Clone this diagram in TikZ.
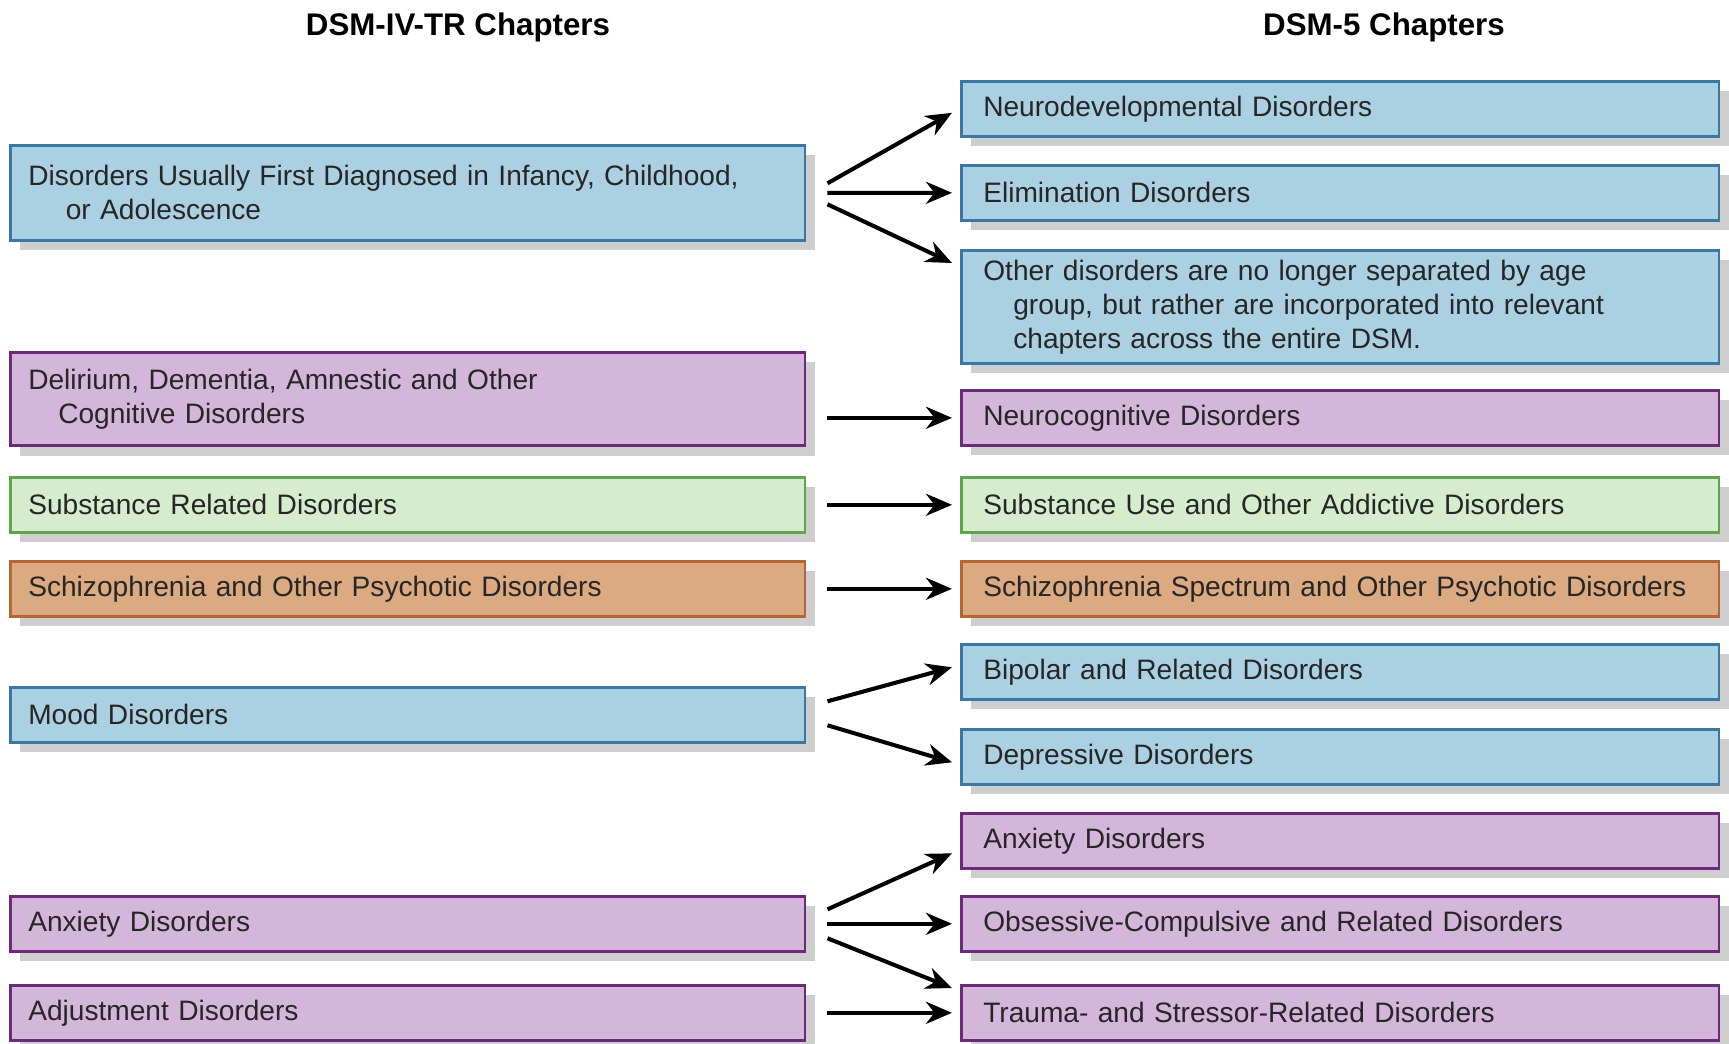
\documentclass[tikz,border=0pt]{standalone}
\usepackage{fontspec}
\setmainfont{Liberation Sans}
\usetikzlibrary{arrows.meta, shadows, calc}
\definecolor{bluefill}{RGB}{170,208,225}
\definecolor{blueline}{RGB}{58,120,163}
\definecolor{purplefill}{RGB}{211,182,217}
\definecolor{purpleline}{RGB}{110,42,122}
\definecolor{greenfill}{RGB}{213,236,205}
\definecolor{greenline}{RGB}{95,165,78}
\definecolor{orangefill}{RGB}{219,170,128}
\definecolor{orangeline}{RGB}{180,102,52}
\definecolor{shadowgray}{RGB}{206,206,206}
\newcommand{\chapfont}{\fontsize{16pt}{19.35pt}\selectfont}
\newcommand{\headfont}{\fontsize{17.8pt}{20pt}\selectfont\bfseries}

\begin{document}
\begin{tikzpicture}[x=0.02cm, y=-0.02cm,
	chapter/.style={rectangle, anchor=north west, align=left, line width=1.5pt, inner ysep=0pt, text=black!85, font=\chapfont, minimum height=1.1cm, drop shadow={shadow xshift=0.2cm, shadow yshift=-0.2cm, fill=shadowgray, opacity=1}},
	old/.style={chapter, inner xsep=0.36cm, text width=15.18cm},
	new/.style={chapter, inner xsep=0.44cm, text width=14.28cm},
	bluebox/.style={fill=bluefill, draw=blueline},
	purplebox/.style={fill=purplefill, draw=purpleline},
	greenbox/.style={fill=greenfill, draw=greenline},
	orangebox/.style={fill=orangefill, draw=orangeline},
	arrow/.style={-{Stealth[length=0.52cm, width=0.44cm]}, line width=2.3pt},
	title/.style={anchor=base, font=\headfont}]
	\useasboundingbox (0, 0) rectangle (1729, 1044);
	% Titles:
	\node[title] (oldtitle) at (458, 36) {DSM-IV-TR Chapters};
	\node[title] (newtitle) at (1384, 36) {DSM-5 Chapters};
	% DSM-IV-TR chapters:
	\node[old, bluebox, minimum height=1.9cm] (infancy) at (9, 144) {Disorders Usually First Diagnosed in Infancy, Childhood,\\\hspace*{0.75cm}or Adolescence};
	\node[old, purplebox, minimum height=1.87cm] (delirium) at (9, 351) {Delirium, Dementia, Amnestic and Other\\\hspace*{0.6cm}Cognitive Disorders};
	\node[old, greenbox] (substance) at (9, 476) {Substance Related Disorders};
	\node[old, orangebox] (schizo) at (9, 560) {Schizophrenia and Other Psychotic Disorders};
	\node[old, bluebox] (mood) at (9, 686) {Mood Disorders};
	\node[old, purplebox] (anxiety) at (9, 895) {Anxiety Disorders};
	\node[old, purplebox] (adjustment) at (9, 984) {Adjustment Disorders};
	% DSM-5 chapters:
	\node[new, bluebox] (neurodev) at (960, 80) {Neurodevelopmental Disorders};
	\node[new, bluebox] (elimination) at (960, 164) {Elimination Disorders};
	\node[new, bluebox, minimum height=2.26cm] (other) at (960, 249) {Other disorders are no longer separated by age\\\hspace*{0.6cm}group, but rather are incorporated into relevant\\\hspace*{0.6cm}chapters across the entire DSM.};
	\node[new, purplebox] (neurocog) at (960, 389) {Neurocognitive Disorders};
	\node[new, greenbox] (addictive) at (960, 476) {Substance Use and Other Addictive Disorders};
	\node[new, orangebox] (spectrum) at (960, 560) {\mbox{Schizophrenia Spectrum and Other Psychotic Disorders}};
	\node[new, bluebox] (bipolar) at (960, 643) {Bipolar and Related Disorders};
	\node[new, bluebox] (depressive) at (960, 728) {Depressive Disorders};
	\node[new, purplebox] (anxiety5) at (960, 812) {Anxiety Disorders};
	\node[new, purplebox] (ocd) at (960, 895) {Obsessive-Compulsive and Related Disorders};
	\node[new, purplebox] (trauma) at (960, 984) {Trauma- and Stressor-Related Disorders};
	% Arrows:
	\draw[arrow] ($(infancy.east)+(21,-9.5)$) -- ($(neurodev.west)+(-8,4)$);
	\draw[arrow] ($(infancy.east)+(21,0)$) -- ($(elimination.west)+(-8,0)$);
	\draw[arrow] ($(infancy.east)+(21,11.5)$) -- ($(other.north west)+(-8,14)$);
	\draw[arrow] ($(delirium.east |- neurocog.west)+(21,0)$) -- ($(neurocog.west)+(-8,0)$);
	\draw[arrow] ($(substance.east)+(21,0)$) -- ($(addictive.west)+(-8,0)$);
	\draw[arrow] ($(schizo.east)+(21,0)$) -- ($(spectrum.west)+(-8,0)$);
	\draw[arrow] ($(mood.east)+(21,-13.5)$) -- ($(bipolar.west)+(-8,-4.5)$);
	\draw[arrow] ($(mood.east)+(21,10.5)$) -- ($(depressive.west)+(-8,5.5)$);
	\draw[arrow] ($(anxiety.east)+(21,-14.5)$) -- ($(anxiety5.west)+(-8,12.5)$);
	\draw[arrow] ($(anxiety.east)+(21,0)$) -- ($(ocd.west)+(-8,0)$);
	\draw[arrow] ($(anxiety.east)+(21,14.5)$) -- ($(trauma.north west)+(-8,4)$);
	\draw[arrow] ($(adjustment.east)+(21,0)$) -- ($(trauma.west)+(-8,0)$);
\end{tikzpicture}
\end{document}
